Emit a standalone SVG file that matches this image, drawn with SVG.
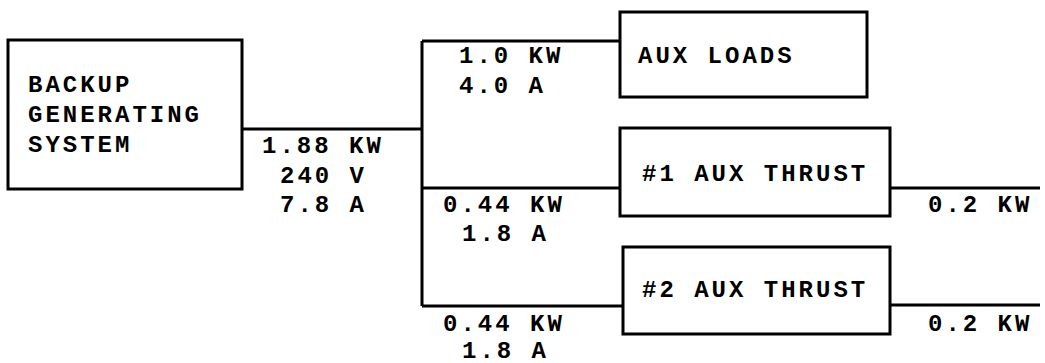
<svg xmlns="http://www.w3.org/2000/svg" width="1045" height="363" viewBox="0 0 1045 363">
<style>
.box{fill:#fff;stroke:#000;stroke-width:3}
.ln{fill:none;stroke:#000;stroke-width:3}
text{font-family:"Liberation Mono","Courier New",monospace;font-weight:bold;font-size:24px;letter-spacing:3px;fill:#000}
</style>
<rect width="1045" height="363" fill="#fff"/>
<g id="connectors">
<path class="ln" d="M242 129H422M422 41V306M422 41H620M422 188H620M422 306H623M890 188H1040M890 305H1040"/>
</g>
<g id="labels">
<text x="262" y="153">1.88 KW</text>
<text x="280" y="183">240 V</text>
<text x="280" y="212">7.8 A</text>
<text x="459" y="63">1.0 KW</text>
<text x="459" y="93">4.0 A</text>
<text x="443" y="212">0.44 KW</text>
<text x="462" y="241">1.8 A</text>
<text x="443" y="331">0.44 KW</text>
<text x="462" y="358">1.8 A</text>
<text x="928" y="212">0.2 KW</text>
<text x="928" y="331">0.2 KW</text>
</g>
<g id="backup">
<rect class="box" x="8" y="40" width="234" height="149"/>
<text x="28" y="92">BACKUP</text>
<text x="28" y="122">GENERATING</text>
<text x="28" y="152">SYSTEM</text>
</g>
<g id="auxloads">
<rect class="box" x="620" y="12" width="247" height="85"/>
<text x="638" y="63">AUX LOADS</text>
</g>
<g id="thrust1">
<rect class="box" x="620" y="128" width="270" height="88"/>
<text x="642" y="181">#1 AUX THRUST</text>
</g>
<g id="thrust2">
<rect class="box" x="623" y="247" width="267" height="87"/>
<text x="642" y="297">#2 AUX THRUST</text>
</g>
</svg>
